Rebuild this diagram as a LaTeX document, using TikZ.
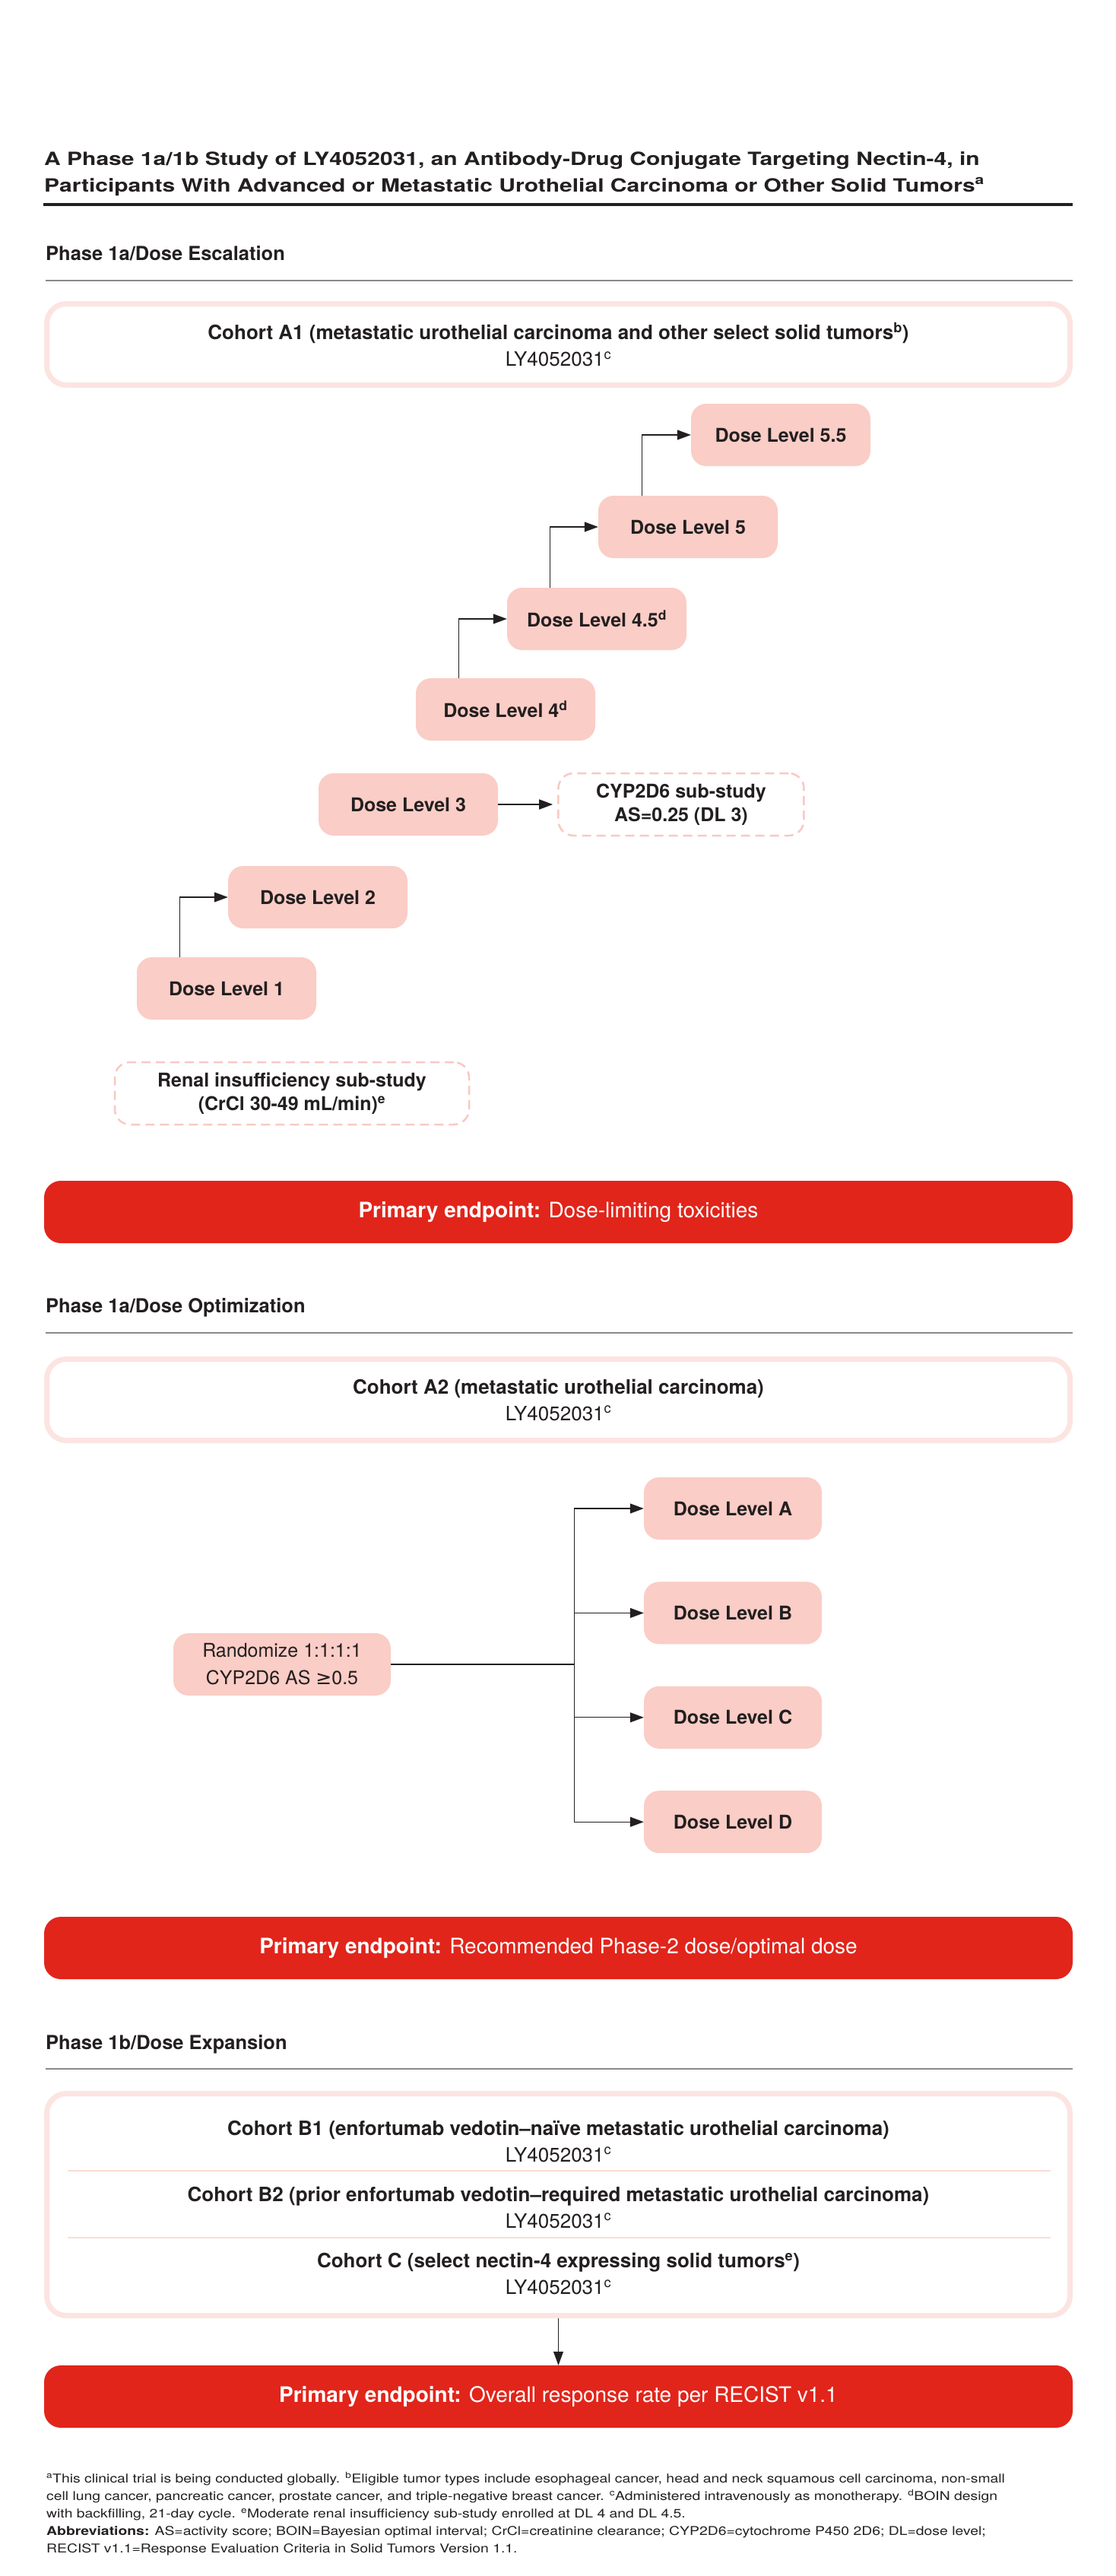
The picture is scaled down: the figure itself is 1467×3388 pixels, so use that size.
\documentclass[tikz,border=0pt]{standalone}
\usepackage{fontspec}
\setmainfont{TeX Gyre Heros}
\newfontfamily\widefont{TeX Gyre Heros}[FakeStretch=1.25]
\newfontfamily\notefont{TeX Gyre Heros}[FakeStretch=1.21]
\newfontfamily\symbfont{DejaVu Sans}
\usepackage{xcolor}
\usetikzlibrary{positioning,arrows.meta}

\definecolor{pinkfill}{HTML}{FACDC6}
\definecolor{pinkdash}{HTML}{F8C9C2}
\definecolor{cohortline}{HTML}{FCE4E0}
\definecolor{sepline}{HTML}{FBDCD6}
\definecolor{endred}{HTML}{E1251B}
\definecolor{darktext}{HTML}{231F20}
\definecolor{rulegray}{HTML}{8A8A8A}

\tikzset{
    titletext/.style={anchor=base west, inner sep=0pt, font=\widefont\fontsize{24}{30}\selectfont\bfseries},
    heading/.style={anchor=base west, inner sep=0pt, font=\fontsize{25.5}{30}\selectfont\bfseries},
    grayrule/.style={draw=rulegray, line width=1.6pt},
    cohortbox/.style={rectangle, draw=cohortline, line width=7pt, fill=white, rounded corners=26pt, minimum width=1346pt, align=center, font=\fontsize{26}{35}\selectfont},
    cohorttext/.style={align=center, inner sep=0pt, font=\fontsize{26}{35}\selectfont},
    dosebox/.style={rectangle, fill=pinkfill, rounded corners=20pt, minimum width=236pt, minimum height=82pt, inner sep=0pt, align=center, font=\fontsize{25}{30}\selectfont\bfseries},
    subbox/.style={rectangle, draw=pinkdash, line width=2.5pt, dash pattern=on 12pt off 7pt, rounded corners=20pt, minimum height=82pt, inner sep=0pt, align=center, font=\fontsize{25}{31}\selectfont\bfseries},
    endbox/.style={rectangle, fill=endred, rounded corners=22pt, minimum width=1353pt, minimum height=82pt, text=white, font=\fontsize{28}{34}\selectfont},
    steparrow/.style={draw=darktext, line width=1.2pt, -{Triangle[length=18pt,width=13pt]}},
    footnote/.style={anchor=north west, inner sep=0pt, align=left, font=\notefont\fontsize{16}{23}\selectfont}
}

\begin{document}
\begin{tikzpicture}[x=1pt, y=-1pt, every node/.append style={text=darktext}]
    \fill[white] (0,0) rectangle (1467,3388);
    \useasboundingbox (0,0) rectangle (1467,3388);

    \node[titletext] (title1) at (58,217) {A Phase 1a/1b Study of LY4052031, an Antibody-Drug Conjugate Targeting Nectin-4, in};
    \node[titletext] (title2) at (58,252) {Participants With Advanced or Metastatic Urothelial Carcinoma or Other Solid Tumors\textsuperscript{a}};
    \draw[draw=darktext, line width=3.3pt] (57,269) -- (1411,269);

    \node[heading] (headEsc) at (60,342) {Phase 1a/Dose Escalation};
    \draw[grayrule] (60,369) -- (1411,369);
    \node[cohortbox, minimum height=107pt] (cohortA1) at (734.5,453) {\textbf{Cohort A1 (metastatic urothelial carcinoma and other select solid tumors\textsuperscript{b})}\\LY4052031\textsuperscript{c}};

    \node[dosebox] (dl1) at (298,1300) {Dose Level 1};
    \node[dosebox] (dl2) at (418,1180) {Dose Level 2};
    \node[dosebox] (dl3) at (537,1058) {Dose Level 3};
    \node[dosebox] (dl4) at (665,933) {Dose Level 4\textsuperscript{d}};
    \node[dosebox] (dl45) at (785,814) {Dose Level 4.5\textsuperscript{d}};
    \node[dosebox] (dl5) at (905,693) {Dose Level 5};
    \node[dosebox] (dl55) at (1027,572) {Dose Level 5.5};
    \node[subbox, minimum width=323pt, right=78pt of dl3] (cyp) {CYP2D6 sub-study\\AS=0.25 (DL 3)};
    \node[subbox, minimum width=466pt] (renal) at (384,1438) {Renal insufficiency sub-study\\(CrCl 30-49 mL/min)\textsuperscript{e}};

    \draw[steparrow] ([xshift=57pt]dl1.north west) |- (dl2.west);
    \draw[steparrow] ([xshift=57pt]dl4.north west) |- (dl45.west);
    \draw[steparrow] ([xshift=57pt]dl45.north west) |- (dl5.west);
    \draw[steparrow] ([xshift=58pt]dl5.north west) |- (dl55.west);
    \draw[steparrow, line width=1.6pt, shorten >=6pt] (dl3) -- (cyp);

    \node[endbox] (endEsc) at (734.5,1594) {\textbf{Primary endpoint:} Dose-limiting toxicities};

    \node[heading] (headOpt) at (60,1726) {Phase 1a/Dose Optimization};
    \draw[grayrule] (60,1753) -- (1411,1753);
    \node[cohortbox, minimum height=107pt] (cohortA2) at (734.5,1841) {\textbf{Cohort A2 (metastatic urothelial carcinoma)}\\LY4052031\textsuperscript{c}};

    \node[dosebox, minimum width=234pt] (dlA) at (964,1984) {Dose Level A};
    \node[dosebox, minimum width=234pt, below=55pt of dlA] (dlB) {Dose Level B};
    \node[dosebox, minimum width=234pt, below=55pt of dlB] (dlC) {Dose Level C};
    \node[dosebox, minimum width=234pt, below=55pt of dlC] (dlD) {Dose Level D};
    \node[dosebox, minimum width=286pt, font=\fontsize{25}{36}\selectfont] (rand) at (371,2189) {Randomize 1:1:1:1\\CYP2D6 AS {\symbfont ≥}0.5};
    \coordinate (split) at ([xshift=241pt]rand.east);

    \draw[draw=darktext, line width=1.6pt] (rand) -- (split);
    \foreach \lvl in {dlA,dlB,dlC,dlD}
        \draw[steparrow] (split) |- (\lvl.west);

    \node[endbox] (endOpt) at (734.5,2562) {\textbf{Primary endpoint:} Recommended Phase-2 dose/optimal dose};

    \node[heading] (headExp) at (60,2695) {Phase 1b/Dose Expansion};
    \draw[grayrule] (60,2721) -- (1411,2721);
    \node[cohortbox, minimum height=292pt] (cohortB) at (734.5,2899.5) {};
    \node[cohorttext] (cohortB1) at (734.5,2816) {\textbf{Cohort B1 (enfortumab vedotin–naïve metastatic urothelial carcinoma)}\\LY4052031\textsuperscript{c}};
    \node[cohorttext] (cohortB2) at (734.5,2903) {\textbf{Cohort B2 (prior enfortumab vedotin–required metastatic urothelial carcinoma)}\\LY4052031\textsuperscript{c}};
    \node[cohorttext] (cohortC) at (734.5,2990) {\textbf{Cohort C (select nectin-4 expressing solid tumors\textsuperscript{e})}\\LY4052031\textsuperscript{c}};
    \draw[draw=sepline, line width=1.5pt] (89,2855) -- (1382,2855);
    \draw[draw=sepline, line width=1.5pt] (89,2943) -- (1382,2943);

    \node[endbox] (endExp) at (734.5,3152) {\textbf{Primary endpoint:} Overall response rate per RECIST v1.1};
    \draw[steparrow, line width=1pt] (cohortB) -- (endExp);

    \node[footnote] (notes) at (61,3251) {\textsuperscript{a}This clinical trial is being conducted globally. \textsuperscript{b}Eligible tumor types include esophageal cancer, head and neck squamous cell carcinoma, non-small\\
    cell lung cancer, pancreatic cancer, prostate cancer, and triple-negative breast cancer. \textsuperscript{c}Administered intravenously as monotherapy. \textsuperscript{d}BOIN design\\
    with backfilling, 21-day cycle. \textsuperscript{e}Moderate renal insufficiency sub-study enrolled at DL 4 and DL 4.5.\\
    \textbf{Abbreviations:} AS=activity score; BOIN=Bayesian optimal interval; CrCl=creatinine clearance; CYP2D6=cytochrome P450 2D6; DL=dose level;\\
    RECIST v1.1=Response Evaluation Criteria in Solid Tumors Version 1.1.};
\end{tikzpicture}
\end{document}
